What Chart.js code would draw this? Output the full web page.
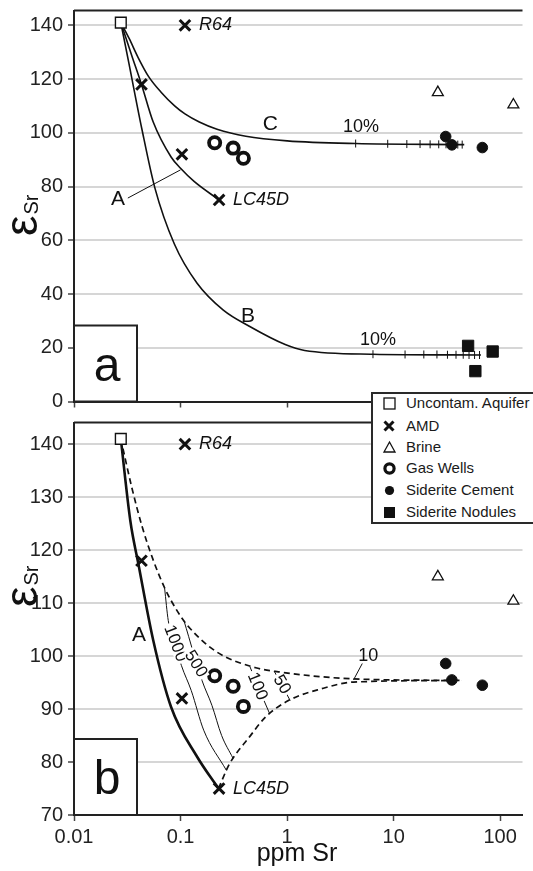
<!DOCTYPE html>
<html>
<head>
<meta charset="utf-8">
<script src="https://cdn.jsdelivr.net/npm/chart.js@4.4.1/dist/chart.umd.min.js"></script>
<style>
  html, body { margin: 0; padding: 0; background: #fff; }
  body { width: 533px; height: 871px; position: relative; overflow: hidden; font-family: Arial, "Liberation Sans", sans-serif; }
  .wrap { position: absolute; left: 0; width: 533px; }
  #wrapA { top: 0; height: 412px; }
  #wrapB { top: 412px; height: 459px; }
  #legend { position: absolute; left: 371px; top: 392px; width: 175px; height: 132px; box-sizing: border-box;
            border: 2px solid #2a2a2a; background: #fff; }
  #legend .row { position: absolute; left: 0; height: 18px; line-height: 18px; font-size: 15px; color: #1a1a1a; white-space: nowrap; }
  #legend svg { position: absolute; left: 8px; top: 1px; }
  #legend span { position: absolute; left: 33px; top: 0; }
</style>
</head>
<body>
<div class="wrap" id="wrapA"><canvas id="chartA" width="533" height="412"></canvas></div>
<div class="wrap" id="wrapB"><canvas id="chartB" width="533" height="459"></canvas></div>
<div id="legend"></div>
<script>
const FONT = 'Arial, "Liberation Sans", sans-serif';

// axes
const xTicks = [0.01, 0.1, 1, 10, 100];
const xTickLabels = ['0.01', '0.1', '1', '10', '100'];
const yTicksA = [0, 20, 40, 60, 80, 100, 120, 140];
const yTicksB = [70, 80, 90, 100, 110, 120, 130, 140];

// samples (ppm Sr, eps Sr)
const aquiferSr = [0.0275];
const aquiferEps = [141];
const amdSr = [0.11, 0.043, 0.103, 0.23];
const amdEps = [140, 118, 92, 75];
const amdNames = ['R64', '', '', 'LC45D'];
const brineSr = [26, 133];
const brineEps = [115, 110.4];
const gasSr = [0.209, 0.312, 0.389];
const gasEps = [96.3, 94.3, 90.5];
const cementSr = [30.8, 35.2, 68];
const cementEps = [98.6, 95.5, 94.5];
const noduleSr = [50, 85, 58.5];
const noduleEps = [20.7, 18.6, 11.3];

// panel a mixing curves
const curveASr = [0.0275, 0.035, 0.043, 0.0554, 0.0815, 0.1, 0.134, 0.23];
const curveAEps = [141, 128.5, 118, 104, 91, 86.8, 81.9, 75];
const curveBSr = [0.0275, 0.0327, 0.0433, 0.0574, 0.0875, 0.143, 0.252, 0.442, 0.96, 1.46, 6.4, 66];
const curveBEps = [141, 126, 101.5, 79.5, 58.6, 44, 34, 28, 21.2, 19, 17.6, 17.3];
const curveCSr = [0.0275, 0.033, 0.04, 0.05, 0.066, 0.088, 0.11, 0.15, 0.22, 0.41, 1, 4.4, 46];
const curveCEps = [141, 135, 128, 121, 115, 110, 107, 104, 101.3, 98.7, 97, 96, 95.6];
const ticksBSr = [6.4, 12.8, 19.2, 25.5, 32, 38.5, 45, 51, 57.5, 64];
const ticksBEps = [17.6, 17.5, 17.5, 17.5, 17.4, 17.4, 17.4, 17.3, 17.3, 17.3];
const ticksCSr = [4.4, 8.8, 13.3, 17.7, 22, 26.5, 31, 35.5, 40, 44];
const ticksCEps = [96, 95.9, 95.8, 95.8, 95.7, 95.7, 95.7, 95.6, 95.6, 95.6];

// panel b mixing curves
const bASr = [0.0275, 0.0338, 0.0403, 0.0554, 0.0815, 0.143, 0.227];
const bAEps = [141, 125.5, 117.3, 103, 90.4, 81, 75];
const upperSr = [0.0275, 0.035, 0.0435, 0.055, 0.0708, 0.09, 0.116, 0.218, 0.508, 0.776, 4.2, 43];
const upperEps = [141, 131.7, 124.5, 118.3, 112.9, 109, 105.8, 100.8, 97.8, 97.1, 95.7, 95.4];
const lowerSr = [0.227, 0.289, 0.442, 0.628, 1.03, 2.08, 4.2, 43];
const lowerEps = [75, 79.7, 84.7, 88.5, 91.6, 93.8, 95.1, 95.4];
const r1000Sr = [0.0708, 0.0767, 0.102, 0.126, 0.165, 0.27];
const r1000Eps = [112.9, 106.7, 98.2, 93.5, 86, 78.4];
const r500Sr = [0.108, 0.159, 0.197, 0.243, 0.311];
const r500Eps = [106.6, 95.4, 90.7, 85, 80.7];
const r100Sr = [0.448, 0.553, 0.684];
const r100Eps = [98, 93.5, 89.2];
const r50Sr = [0.76, 1.07];
const r50Eps = [97.1, 91.6];

const legendLabels = ['Uncontam. Aquifer', 'AMD', 'Brine', 'Gas Wells', 'Siderite Cement', 'Siderite Nodules'];

const pts = (xs, ys) => xs.map((x, i) => ({ x: x, y: ys[i] }));

function markerSets(withNodules) {
  const sets = [
    { data: pts(aquiferSr, aquiferEps), pointStyle: 'rect', pointRadius: 7.6, pointBackgroundColor: '#fff', pointBorderColor: '#111', pointBorderWidth: 1.4 },
    { data: pts(amdSr, amdEps), pointStyle: 'crossRot', pointRadius: 7.5, pointBorderColor: '#111', pointBorderWidth: 3 },
    { data: pts(brineSr, brineEps), pointStyle: 'triangle', pointRadius: 6.3, pointBackgroundColor: '#fff', pointBorderColor: '#111', pointBorderWidth: 1.3 },
    { data: pts(gasSr, gasEps), pointStyle: 'circle', pointRadius: 5.6, pointBackgroundColor: '#fff', pointBorderColor: '#111', pointBorderWidth: 3.8 },
    { data: pts(cementSr, cementEps), pointStyle: 'circle', pointRadius: 5.3, pointBackgroundColor: '#111', pointBorderColor: '#111', pointBorderWidth: 1 }
  ];
  if (withNodules) {
    sets.push({ data: pts(noduleSr, noduleEps), pointStyle: 'rect', pointRadius: 8, pointBackgroundColor: '#111', pointBorderColor: '#111', pointBorderWidth: 1 });
  }
  return sets;
}

function curve(xs, ys, width, dash) {
  return { data: pts(xs, ys), showLine: true, pointRadius: 0, borderColor: '#111', borderWidth: width,
           borderDash: dash || [], cubicInterpolationMode: 'monotone', fill: false };
}

function tickSet(xs, ys) {
  return { data: pts(xs, ys), pointStyle: 'line', pointRotation: 90, pointRadius: 4, pointBorderColor: '#111', pointBorderWidth: 1 };
}

function drawText(ctx, x, y, t) {
  ctx.save();
  ctx.translate(x, y);
  if (t.rot) ctx.rotate(t.rot * Math.PI / 180);
  ctx.font = (t.italic ? 'italic ' : '') + t.size + 'px ' + FONT;
  ctx.textAlign = t.align || 'center';
  ctx.textBaseline = 'middle';
  if (t.bg) {
    const w = ctx.measureText(t.text).width;
    ctx.fillStyle = '#fff';
    ctx.fillRect(-w / 2 - 2, -t.size * 0.36, w + 4, t.size * 0.72);
  }
  ctx.fillStyle = '#111';
  ctx.fillText(t.text, 0, 0);
  ctx.restore();
}

const annot = {
  id: 'annot',
  afterDraw(chart, args, o) {
    const { ctx, chartArea: ca, scales: { x, y } } = chart;
    ctx.save();
    // frame top
    ctx.strokeStyle = '#222';
    ctx.lineWidth = 2;
    ctx.beginPath();
    ctx.moveTo(ca.left, ca.top);
    ctx.lineTo(ca.right, ca.top);
    ctx.stroke();

    // leader lines
    ctx.lineWidth = 1;
    ctx.strokeStyle = '#111';
    o.leaders.forEach(l => {
      ctx.beginPath();
      ctx.moveTo(x.getPixelForValue(l.x1), y.getPixelForValue(l.y1));
      ctx.lineTo(x.getPixelForValue(l.x2), y.getPixelForValue(l.y2));
      ctx.stroke();
    });

    // curve / region labels
    o.texts.forEach(t => drawText(ctx, x.getPixelForValue(t.x), y.getPixelForValue(t.y), t));

    // sample names
    amdSr.forEach((v, i) => {
      if (!amdNames[i]) return;
      drawText(ctx, x.getPixelForValue(v) + 14, y.getPixelForValue(amdEps[i]),
               { text: amdNames[i], size: 18, italic: true, align: 'left' });
    });

    // panel letter box
    ctx.fillStyle = '#fff';
    ctx.fillRect(ca.left, ca.bottom - 76, 63, 76);
    ctx.lineWidth = 2;
    ctx.strokeStyle = '#222';
    ctx.strokeRect(ca.left, ca.bottom - 76, 63, 76);
    ctx.fillStyle = '#111';
    ctx.font = '48px ' + FONT;
    ctx.textAlign = 'center';
    ctx.textBaseline = 'alphabetic';
    ctx.fillText(o.letter, ca.left + 33, ca.bottom - 21);

    // y title: eps with Sr subscript
    ctx.save();
    ctx.translate(37, o.titleY);
    ctx.rotate(-Math.PI / 2);
    ctx.textAlign = 'left';
    ctx.font = '46px ' + FONT;
    ctx.fillText('\u03b5', 0, 0);
    const w = ctx.measureText('\u03b5').width;
    ctx.font = '20px ' + FONT;
    ctx.fillText('Sr', w + 1, 1);
    ctx.restore();

    // x title
    if (o.xTitle) {
      ctx.font = '25px ' + FONT;
      ctx.textAlign = 'center';
      ctx.fillText(o.xTitle, 297, o.xTitleY);
    }
    ctx.restore();
  }
};

function makeOptions(yMin, yMax, yTicks, showX, padTop, xHeight) {
  return {
    responsive: false,
    animation: false,
    layout: { padding: { top: padTop, left: 0, right: 0, bottom: 0 } },
    plugins: { legend: { display: false }, tooltip: { enabled: false } },
    scales: {
      x: {
        type: 'logarithmic', min: 0.01, max: 162,
        afterBuildTicks: s => { s.ticks = xTicks.map(v => ({ value: v })); },
        afterFit: s => { s.height = xHeight; s.paddingLeft = 0; s.paddingRight = 0; },
        grid: { drawOnChartArea: false, drawTicks: true, tickLength: 6, tickColor: '#444', tickWidth: 1.5 },
        border: { color: '#222', width: 2 },
        ticks: { display: showX, padding: 4, color: '#222', font: { size: 20, family: FONT },
                 callback: (v, i) => xTickLabels[i] }
      },
      y: {
        min: yMin, max: yMax,
        afterBuildTicks: s => { s.ticks = yTicks.map(v => ({ value: v })); },
        afterFit: s => { s.width = 74; s.paddingTop = 0; s.paddingBottom = 0; },
        grid: { color: '#d6d6d6', lineWidth: 2, tickLength: 6, tickColor: '#444', tickWidth: 1.5 },
        border: { color: '#222', width: 2 },
        ticks: { padding: 5, color: '#222', font: { size: 20, family: FONT }, callback: v => String(v) }
      }
    }
  };
}

// panel a
const optsA = makeOptions(0, 145.5, yTicksA, false, 7, 9);
optsA.plugins.annot = {
  letter: 'a', titleY: 236,
  texts: [
    { text: 'A', x: 0.0259, y: 75.3, size: 21 },
    { text: 'B', x: 0.43, y: 31.9, size: 21 },
    { text: 'C', x: 0.698, y: 103.2, size: 21 },
    { text: '10%', x: 4.93, y: 102.1, size: 18 },
    { text: '10%', x: 7.13, y: 22.8, size: 18 }
  ],
  leaders: [{ x1: 0.032, y1: 75.7, x2: 0.1, y2: 86.2 }]
};
new Chart(document.getElementById('chartA'), {
  type: 'scatter',
  data: {
    datasets: markerSets(true).concat([
      tickSet(ticksBSr, ticksBEps),
      tickSet(ticksCSr, ticksCEps),
      curve(curveASr, curveAEps, 1.6),
      curve(curveBSr, curveBEps, 1.6),
      curve(curveCSr, curveCEps, 1.6)
    ])
  },
  options: optsA,
  plugins: [annot]
});

// panel b
const optsB = makeOptions(70, 144.1, yTicksB, true, 9, 56);
optsB.plugins.annot = {
  letter: 'b', titleY: 195, xTitle: 'ppm Sr', xTitleY: 449,
  texts: [
    { text: 'A', x: 0.0408, y: 103.9, size: 21 },
    { text: '1000', x: 0.089, y: 102.4, size: 17, rot: 69, bg: true },
    { text: '500', x: 0.139, y: 98.5, size: 17, rot: 58, bg: true },
    { text: '100', x: 0.525, y: 94.3, size: 17, rot: 68, bg: true },
    { text: '50', x: 0.89, y: 94.6, size: 17, rot: 60, bg: true },
    { text: '10', x: 5.77, y: 100, size: 18 }
  ],
  leaders: [{ x1: 5.08, y1: 98.6, x2: 4.2, y2: 95.5 }]
};
new Chart(document.getElementById('chartB'), {
  type: 'scatter',
  data: {
    datasets: markerSets(false).concat([
      curve(bASr, bAEps, 2.6),
      curve(upperSr, upperEps, 1.7, [6, 4]),
      curve(lowerSr, lowerEps, 1.7, [6, 4]),
      curve(r1000Sr, r1000Eps, 1),
      curve(r500Sr, r500Eps, 1),
      curve(r100Sr, r100Eps, 1),
      curve(r50Sr, r50Eps, 1)
    ])
  },
  options: optsB,
  plugins: [annot]
});

// legend
const legendIcons = [
  '<rect x="3" y="3" width="11" height="11" fill="#fff" stroke="#111" stroke-width="1.3"/>',
  '<path d="M3.5 3.5 L12.5 12.5 M12.5 3.5 L3.5 12.5" stroke="#111" stroke-width="3"/>',
  '<polygon points="8.5,3 14,13 3,13" fill="#fff" stroke="#111" stroke-width="1.3"/>',
  '<circle cx="8.5" cy="8.5" r="4.6" fill="#fff" stroke="#111" stroke-width="3.2"/>',
  '<circle cx="8.5" cy="8.5" r="4.6" fill="#111"/>',
  '<rect x="3" y="3" width="11" height="11" fill="#111"/>'
];
const rowTops = [0.3, 23, 44.3, 65.3, 87, 108.7];
const legend = document.getElementById('legend');
legendLabels.forEach((lab, i) => {
  const row = document.createElement('div');
  row.className = 'row';
  row.style.top = rowTops[i] + 'px';
  row.innerHTML = '<svg width="17" height="17" viewBox="0 0 17 17">' + legendIcons[i] + '</svg><span>' + lab + '</span>';
  legend.appendChild(row);
});
</script>
</body>
</html>
